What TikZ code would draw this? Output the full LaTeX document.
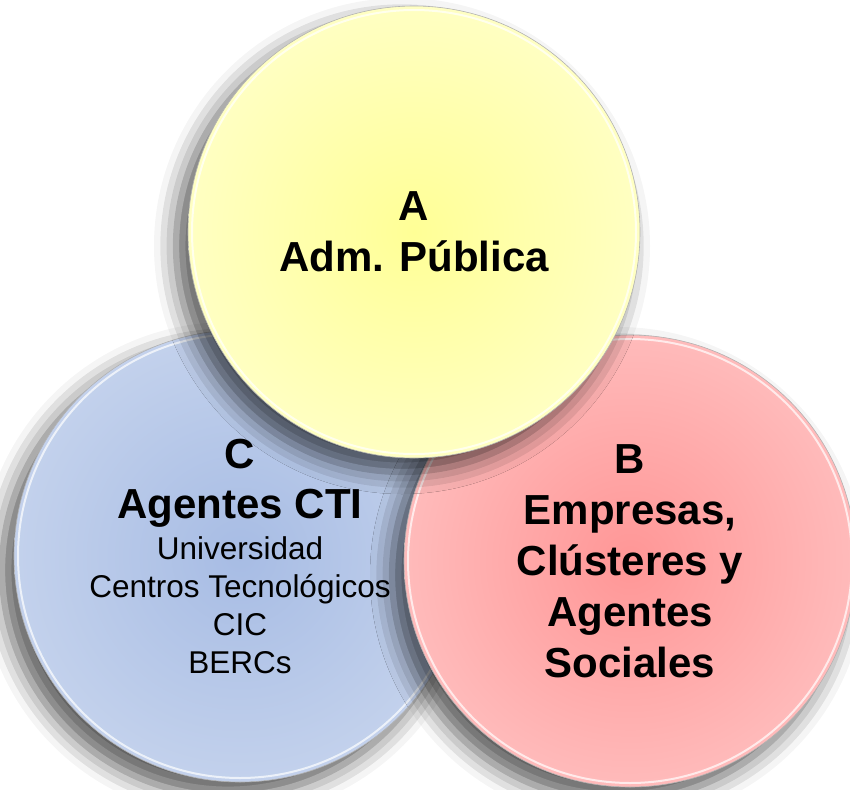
\documentclass[tikz,border=0pt]{standalone}
\usepackage{fontspec}
\setmainfont{Liberation Sans}
\usetikzlibrary{shadows.blur}

\definecolor{admIn}{HTML}{FFFF96}
\definecolor{admOut}{HTML}{FFFFD2}
\definecolor{empIn}{HTML}{FF9696}
\definecolor{empOut}{HTML}{FFC8C8}
\definecolor{ctiIn}{HTML}{A7BCE4}
\definecolor{ctiOut}{HTML}{CDD9EF}
\pgfdeclareradialshading{admball}{\pgfpointorigin}{color(0bp)=(admIn); color(34bp)=(admOut); color(50bp)=(admOut)}
\pgfdeclareradialshading{empball}{\pgfpointorigin}{color(0bp)=(empIn); color(34bp)=(empOut); color(50bp)=(empOut)}
\pgfdeclareradialshading{ctiball}{\pgfpointorigin}{color(0bp)=(ctiIn); color(34bp)=(ctiOut); color(50bp)=(ctiOut)}

\newcommand{\headfont}{\fontsize{42}{51}\selectfont\bfseries}
\newcommand{\listfont}{\fontsize{31.5}{38}\selectfont}

\tikzset{%
	blob/.style={circle, draw=gray!60, line width=0.6pt, minimum size=452pt, inner sep=0pt,%
		align=center, blur shadow={shadow xshift=-12pt, shadow yshift=-14pt,%
		shadow blur radius=22pt, shadow opacity=65},%
		path picture={\draw[white, line width=2pt, opacity=0.7]%
			(path picture bounding box.center) circle (222pt);}},
	adm/.style={blob, shading=admball, font=\headfont},
	emp/.style={blob, shading=empball, font=\headfont},
	cti/.style={blob, shading=ctiball, font=\listfont}
}

\begin{document}
\begin{tikzpicture}[x=1pt, y=-1pt]
	\useasboundingbox (0,0) rectangle (850,789);
	\node[cti] (cti) at (240,556) {{\headfont C}\\[12pt] {\headfont Agentes CTI}\\[3pt]%
		Universidad\\ Centros Tecnológicos\\ CIC\\ BERCs};
	\node[emp] (emp) at (630,561) {B\\ Empresas,\\ Clústeres y\\ Agentes\\ Sociales};
	\node[adm] (adm) at (414,232) {A\\ Adm. Pública};
\end{tikzpicture}
\end{document}
